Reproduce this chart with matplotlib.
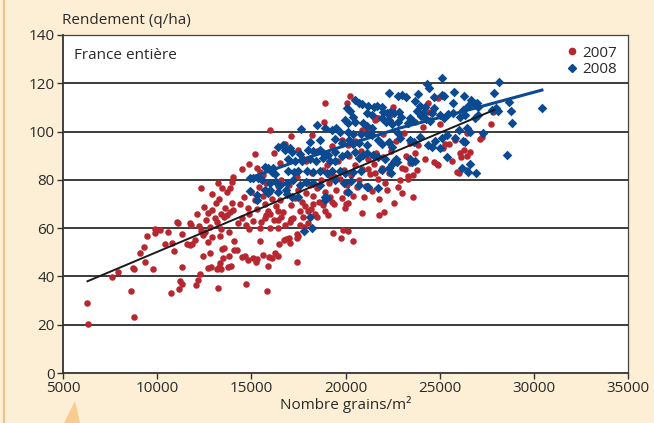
import matplotlib.pyplot as plt
from matplotlib.patches import Polygon
from matplotlib.lines import Line2D

plt.rcParams['font.family'] = ['Open Sans', 'DejaVu Sans']

# 2007 (red dots)
x2007 = [6260, 6345, 7585, 7940, 8610, 8770, 8700, 8790, 9090, 9355, 9320, 9445, 9765, 9885, 9880,
         10150, 10415, 10590, 10770, 10895, 10735, 11040, 11120, 11160, 11210, 11335, 11335, 11300,
         11600, 11740, 11850, 11740, 11820, 12100, 12010, 12185, 12275, 12045, 12340, 12450, 12540,
         12500, 12450, 12685, 12715, 12805, 12680, 12880, 12930, 13070, 13215, 13200, 13300, 13400,
         13335, 13355, 13440, 13550, 13510, 13745, 13815, 13900, 13400, 13560, 13700, 13850, 14050,
         13400, 13800, 13960, 14100, 14100,
         14040, 13240, 13440, 12330, 12900, 13700, 13870, 13950,
         14720, 15850, 17410, 15870, 14500, 14650, 14800, 15100, 15250, 15300, 15600, 15950, 16100,
         16250, 16400, 15460, 16470, 16750, 16850, 17000, 17050, 14220, 14900, 15470, 16000, 16400,
         17430, 17480, 17420, 17585, 17030, 17080, 16400, 16600, 15700, 15800, 16000, 16400, 18470,
         18900, 19080, 19320, 19760, 19870, 20130, 20415, 19980, 20050, 20130, 20860, 21780, 22040,
         19265, 17850, 18000, 18150, 18300, 17750,
         14300, 14500, 14700, 14900, 15100, 15300, 15500, 15700, 15900, 16100, 16300, 16500, 16700,
         16900, 17100, 17300, 17500, 17700, 17900, 18100, 18300, 18500, 18700, 18900, 19100, 19300,
         19500, 19700, 19900, 20100, 20300, 20500, 20700, 20900, 21100, 21300, 21500, 21700, 21900,
         22100, 22300, 22500,
         14400, 14600, 14800, 15000, 15200, 15400, 15600, 15800, 16000, 16200, 16400, 16600, 16800,
         17000, 17200, 17400, 17600, 17800, 18000, 18200, 18400, 18600, 18800, 19000, 19200, 19400,
         19600, 19800, 20000, 20200, 20400, 20600, 20800, 21000, 21200, 21400, 21600, 21800, 22000,
         22200,
         13100, 13300, 13600, 13200, 12800, 12600, 12200, 12900,
         15200, 15300, 15460, 15600, 17500, 17670, 19800, 20150, 20500, 20900, 21150, 21560, 21720,
         22000, 22300, 18800, 19100, 19450, 21200, 21550, 21950, 20240, 18870, 18240, 20065, 21650,
         22360, 22520, 16200, 16800, 14900, 14500, 16500, 17100, 18500, 19300, 17900, 16000, 18900,
         23600, 22900, 23300, 23800, 23600, 23300, 23000, 23150, 26000, 26440, 25640, 26150, 26450,
         24930, 24700, 24200, 23700, 23400, 23200, 25200, 25300, 25800, 26440, 27150, 27250, 27710,
         27850, 24400, 24900, 24400, 23300, 23700, 24850, 25500, 26100, 26300, 26600, 25900, 24100,
         23850, 23420, 24650, 22800, 22600, 23000, 22400, 22700, 23100, 25000]
y2007 = [28.9, 20.2, 39.6, 42.0, 34.1, 23.1, 43.5, 43.2, 49.6, 46.1, 52.1, 56.9, 43.2, 59.5, 57.9,
         59.2, 53.4, 58.3, 54.0, 50.7, 33.0, 62.4, 62.0, 34.7, 38.2, 36.9, 44.0, 57.6,
         53.4, 53.0, 53.4, 62.1, 61.5, 65.9, 55.1, 38.5, 41.0, 36.5, 59.0, 57.0, 58.5,
         68.9, 48.5, 54.4, 66.2, 49.6, 43.5, 43.8, 56.5, 64.1, 35.1, 43.2, 43.8, 43.0,
         45.4, 56.9, 51.4, 51.6, 47.5, 44.0, 48.5, 44.5, 66.0, 64.5, 65.5, 66.5, 67.5,
         59.5, 58.5, 70.3, 51.0, 54.5,
         81.3, 78.7, 76.6, 76.5, 74.1, 75.0, 76.6, 79.0,
         36.9, 34.0, 45.9, 44.3, 48.0, 48.5, 47.0, 47.5, 46.0, 47.2, 49.0, 48.0, 47.5,
         49.5, 48.5, 54.8, 53.5, 55.2, 55.5, 55.8, 54.0, 51.0, 59.8, 60.1, 60.0, 60.0,
         57.5, 56.6, 56.0, 61.3, 62.5, 63.8, 63.5, 64.6, 64.4, 65.6, 65.9, 67.2, 64.7,
         67.3, 65.3, 57.9, 55.8, 59.3, 59.0, 54.8, 68.5, 70.0, 70.5, 66.2, 65.5, 66.8,
         71.0, 69.0, 67.2, 68.0, 70.2, 64.6,
         62, 64, 61.5, 66, 63, 68, 62.5, 70, 67, 72, 69, 71.5, 66.5,
         74, 69.5, 72.5, 76, 71, 74.5, 78, 73.5, 76.5, 80, 75, 78.5, 82,
         76, 80.5, 84, 78, 82, 86, 80, 84.5, 77.5, 82.5, 86.5, 80.5, 84,
         78.5, 83, 87.5,
         70, 73, 68.5, 75, 71.5, 77, 73.5, 78.5, 75.5, 63.5, 77.5, 80, 61.5,
         78, 64, 81, 67, 60.5, 62, 83, 66, 71, 69.5, 86, 73, 70,
         88, 72.5, 75, 90, 73.5, 77, 92, 73, 88.5, 75.5, 91, 72, 89.5,
         76,
         70.5, 72, 68.5, 62.5, 60.5, 63.5, 61, 67.5,
         90.7, 85, 83.2, 82, 92.4, 88.9, 96.5, 94.5, 96, 100.5, 101.5, 104.8, 105.6,
         99, 95.3, 84, 82, 81, 84.5, 83, 85, 114.7, 103.8, 98.6, 111.7, 105.5,
         107, 110, 91, 95, 86.5, 84.5, 87, 98, 92, 94, 88, 100.5, 112,
         73.0, 80, 81.5, 84, 82, 80.5, 85, 84.5, 82.7, 84.0, 88.0, 89.5, 90.0,
         86.2, 87.5, 88.5, 91, 87, 90, 93, 95, 96.5, 99.3, 97.0, 97.8, 103.0,
         108.2, 112.0, 114.0, 108.2, 103, 104, 86.5, 95, 91, 92.3, 91.5, 83.2, 102,
         94.4, 95.1, 109, 77, 70.5, 74.5, 92, 96, 99.5, 103]

# 2008 (blue diamonds)
x2008 = [25110, 24350, 24430, 28170, 27900, 25780, 26310, 22800, 23000, 23200, 23870, 24700, 25100,
         25250, 23700, 23950, 24200, 23800, 24100, 25730, 26650, 26800, 26980, 27050, 26480, 24710,
         22600, 22850, 22950, 22800, 23300, 23400, 23600, 24000, 24300, 24600, 24500, 25000, 25250,
         25440, 25730, 26080, 26250, 26350, 26900, 27050, 27800, 28000, 28100, 28700, 28790, 28820,
         30420, 28560, 27320, 26450, 26600, 25800, 26000, 26250, 26350, 25370, 25100, 24760, 25000,
         24400, 24600, 23950, 23650, 23400, 25370, 26600, 26170, 26500, 26950, 23400, 23550, 23700,
         22700, 22750, 22800, 22900,
         22310, 20500, 20700, 20870, 20100, 20240, 21200, 21500, 21650, 21940, 22000, 22200, 22360,
         21140, 21400, 20400, 20500, 19970, 20140, 20930, 21150, 21400, 21940, 22150, 22300, 22470,
         18470, 17620, 18900, 19300, 19500, 19700, 20130, 20400, 20800, 21150, 21400, 18130, 18650,
         19440, 19800, 20200, 20400, 20700, 21150, 21700, 21940, 22300, 22470, 16400, 16700, 16800,
         17050, 17150, 17600, 18000, 18300, 18650, 18800, 19050, 19440, 19800, 20100, 20500, 20700,
         20950, 21150, 21450, 21750, 22100, 22470, 22300, 16950, 17300, 17700, 18100, 18450, 18800,
         19200, 19440, 15730, 15900, 16150, 16950, 17250, 17500, 17950, 18250, 18650, 19000, 19300,
         19700, 19970, 20400, 20800, 16100, 16260, 14930, 15350, 15570, 16000, 16300, 16500, 16900,
         17200, 17600, 17900, 18300, 18650, 19440, 19900, 20300, 20700, 21950, 22400, 21200, 21720,
         14930, 15300, 15730, 15900, 16400, 16850, 16900, 18910, 17150, 17500,
         18120, 17800, 18240, 15290, 18910, 19000, 20150, 21130, 15100, 16000]
y2008 = [122.1, 119.7, 117.9, 120.7, 116.1, 116.5, 114.7, 114.8, 115.3, 114.5, 115.6, 114.5, 115,
         114.8, 112.5, 110.5, 110, 108.5, 107.5, 111.7, 113, 111.4, 112, 110, 110.6, 109.6,
         107.5, 108, 106, 104, 103.5, 105.5, 104.5, 106.5, 105, 107.8, 104.5, 106.8, 105.5,
         107.2, 107.5, 106.2, 108.8, 107, 105.5, 107, 109, 109.6, 108.7, 112.1, 108.7, 103.4,
         109.9, 90.3, 99.3, 101.5, 99.8, 97.5, 100.7, 96, 95.5, 98.6, 97.5, 96.2, 93,
         94.3, 93.6, 97.8, 95.5, 96.5, 89.3, 86.6, 84.8, 83.3, 82.8, 88.7, 87.4, 88,
         88.5, 87.5, 99.4, 97.4,
         116.1, 113, 112, 111.5, 109.7, 108.6, 110.4, 110.2, 110.6, 110.2, 108, 107.5, 108,
         107.5, 107, 106, 104, 104.8, 103.5, 103.5, 102.5, 101.5, 105.6, 104, 104.8, 103.2,
         102.7, 100.9, 101.5, 100.8, 101.3, 100, 99.8, 98.9, 99.2, 99, 98.6, 95.5, 96.5,
         97, 95.4, 96.5, 95, 95.2, 94.5, 96.5, 94.7, 95.5, 93.6, 93.5, 94.4, 92.4,
         93.3, 91.4, 90.8, 92.4, 91.8, 92.4, 91.2, 90.3, 91.5, 90, 90.8, 91.4, 89,
         90.3, 91, 90.3, 89.5, 88.6, 86.5, 85, 88.6, 87.8, 87.8, 88.6, 87.8, 89,
         87.8, 87.8, 85.5, 84.8, 84.8, 83.8, 83.2, 83.8, 83.8, 83.2, 83.8, 82.8, 83.5,
         83.8, 82.8, 83.2, 83.8, 83.2, 82.6, 80.6, 80.6, 80, 78.5, 79.3, 78, 78.8,
         80, 78, 79.3, 78.5, 78, 80, 78.8, 79.4, 78, 84, 82.8, 77, 76.7,
         75.2, 73.8, 75.8, 74.5, 75.1, 76, 74, 73, 73, 73,
         64.5, 59, 59.9, 71.7, 71.7, 72.5, 75.1, 77.2, 80.6, 75.8]

# trend lines
trend2007_x = [6300, 27900]
trend2007_y = [38, 109]
trend2008_x = [14930, 17585, 22895, 25550, 30430]
trend2008_y = [80.8, 88.2, 101.5, 106.9, 117.2]

red = '#B8262F'
blue = '#0B4A91'
txt = '#2a2a2a'

fig = plt.figure(figsize=(6.54, 4.23), dpi=100)
fig.patch.set_facecolor('#FDEFD5')
ax = fig.add_axes([63 / 654, 50 / 423, 565 / 654, 338 / 423])
ax.set_facecolor('white')

ax.scatter(x2007, y2007, marker='o', s=22, color=red, linewidths=0, zorder=3)
ax.scatter(x2008, y2008, marker='D', s=24, color=blue, linewidths=0, zorder=3)
ax.plot(trend2007_x, trend2007_y, color='#1a1a1a', lw=1.4, zorder=4)
ax.plot(trend2008_x, trend2008_y, color=blue, lw=2.2, zorder=4)

ax.set_xlim(5000, 35000)
ax.set_ylim(0, 140)
ax.set_xticks(range(5000, 35001, 5000))
ax.set_yticks(range(0, 141, 20))
for yv in range(20, 121, 20):
    ax.axhline(yv, color='#1a1a1a', lw=1.2, zorder=1)
for side in ['left', 'bottom']:
    ax.spines[side].set_color('#333333')
    ax.spines[side].set_linewidth(1.3)
for side in ['top', 'right']:
    ax.spines[side].set_color('#444444')
    ax.spines[side].set_linewidth(0.9)
ax.tick_params(direction='out', length=4, width=1, color='#333333', labelsize=11, labelcolor=txt, pad=2)

ax.set_xlabel('Nombre grains/m²', fontsize=11, color=txt, labelpad=0)
fig.text(62 / 654, 1 - 20 / 423, 'Rendement (q/ha)', fontsize=11, color=txt, ha='left', va='center')
ax.text(0.02, 0.963, 'France entière', transform=ax.transAxes, fontsize=11, color=txt, ha='left', va='top')

handles = [Line2D([], [], marker='o', ls='', color=red, markersize=4.5),
           Line2D([], [], marker='D', ls='', color=blue, markersize=4.5)]
ax.legend(handles, ['2007', '2008'], loc='upper right', frameon=False, fontsize=11,
          handletextpad=0.1, borderaxespad=0.3, labelspacing=0.1, handlelength=1.2, labelcolor=txt)

# left edge line and callout tip of the frame
fig.add_artist(Line2D([4 / 654, 4 / 654], [0, 1], transform=fig.transFigure, color='#E9C48E', lw=1.5))
fig.add_artist(Polygon([[64 / 654, 0], [75 / 654, 22 / 423], [80 / 654, 0]], closed=True,
                       transform=fig.transFigure, facecolor='#FBCB8E', edgecolor='none'))

fig.savefig('out.png', dpi=100, facecolor=fig.get_facecolor())
